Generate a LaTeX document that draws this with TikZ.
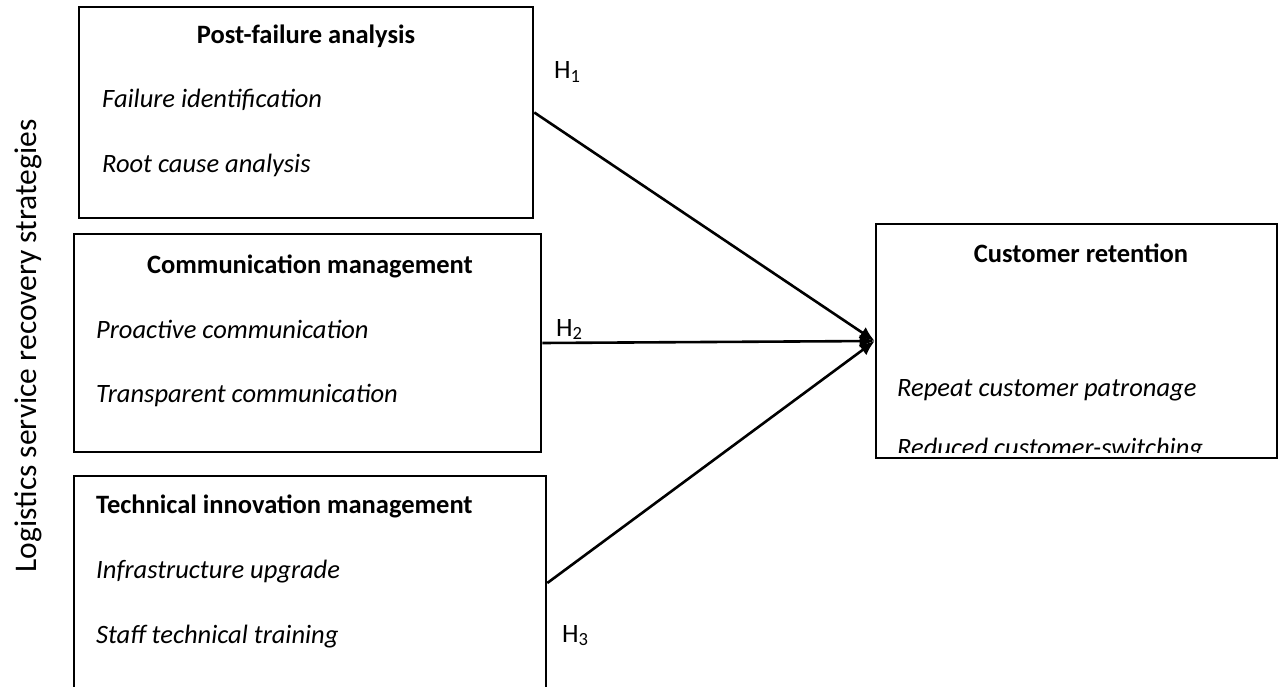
\documentclass[tikz,border=0pt]{standalone}
\usepackage{fontspec}
\setmainfont{Carlito}
\usetikzlibrary{arrows.meta}
\begin{document}
\begin{tikzpicture}[x=1pt,y=-1pt,
  box/.style={draw, line width=2.6pt, inner sep=0pt, rectangle},
  lbl/.style={font=\fontsize{26.5}{31}\selectfont\itshape, anchor=base west, inner sep=0pt},
  ttl/.style={font=\fontsize{26.5}{31}\selectfont\bfseries, anchor=base, inner sep=0pt},
  ttlw/.style={font=\fontsize{26.5}{31}\selectfont\bfseries, anchor=base west, inner sep=0pt},
  hyp/.style={font=\fontsize{26.5}{31}\selectfont, anchor=base west, inner sep=0pt},
  link/.style={line width=2.6pt, -{Latex[length=15pt,width=13pt]}}]
\useasboundingbox (0,0) rectangle (1279,687);
% boxes
\node[box, minimum width=454pt, minimum height=211pt] (b1) at (306,112.5) {};
\node[box, minimum width=467pt, minimum height=218pt] (b2) at (307.5,343) {};
\node[box, minimum width=472pt, minimum height=214pt] (b3) at (310,583) {};
\node[box, minimum width=401pt, minimum height=234pt] (cr) at (1076.5,341) {};
% box 1 texts
\node[ttl] (t1) at (306,44) {Post-failure analysis};
\node[lbl] (t1a) at (102,108) {Failure identification};
\node[lbl] (t1b) at (102,173) {Root cause analysis};
% box 2 texts
\node[ttl] (t2) at (310,273) {Communication management};
\node[lbl] (t2a) at (96,338) {Proactive communication};
\node[lbl] (t2b) at (96,402) {Transparent communication};
% box 3 texts
\node[ttlw] (t3) at (96,513) {Technical innovation management};
\node[lbl] (t3a) at (96,578) {Infrastructure upgrade};
\node[lbl] (t3b) at (96,643) {Staff technical training};
% customer retention texts
\node[ttl] (t4) at (1081,262) {Customer retention};
\node[lbl] (t4a) at (897,396) {Repeat customer patronage};
\begin{scope}
\clip (880,420) rectangle (1275,452);
\node[lbl] (t4b) at (897,456) {Reduced customer-switching};
\end{scope}
% hypotheses
\node[hyp] (h1) at (554,79) {H\textsubscript{1}};
\node[hyp] (h2) at (556,336) {H\textsubscript{2}};
\node[hyp] (h3) at (562,642) {H\textsubscript{3}};
% side label
\node[font=\fontsize{31.5}{36}\selectfont, rotate=90, inner sep=0pt] (side) at (28,346) {Logistics service recovery strategies};
% links
\draw[link] (b1.east) -- (cr.west);
\draw[link] (b2.east) -- (cr.west);
\draw[link] (b3.east) -- (cr.west);
\end{tikzpicture}
\end{document}
